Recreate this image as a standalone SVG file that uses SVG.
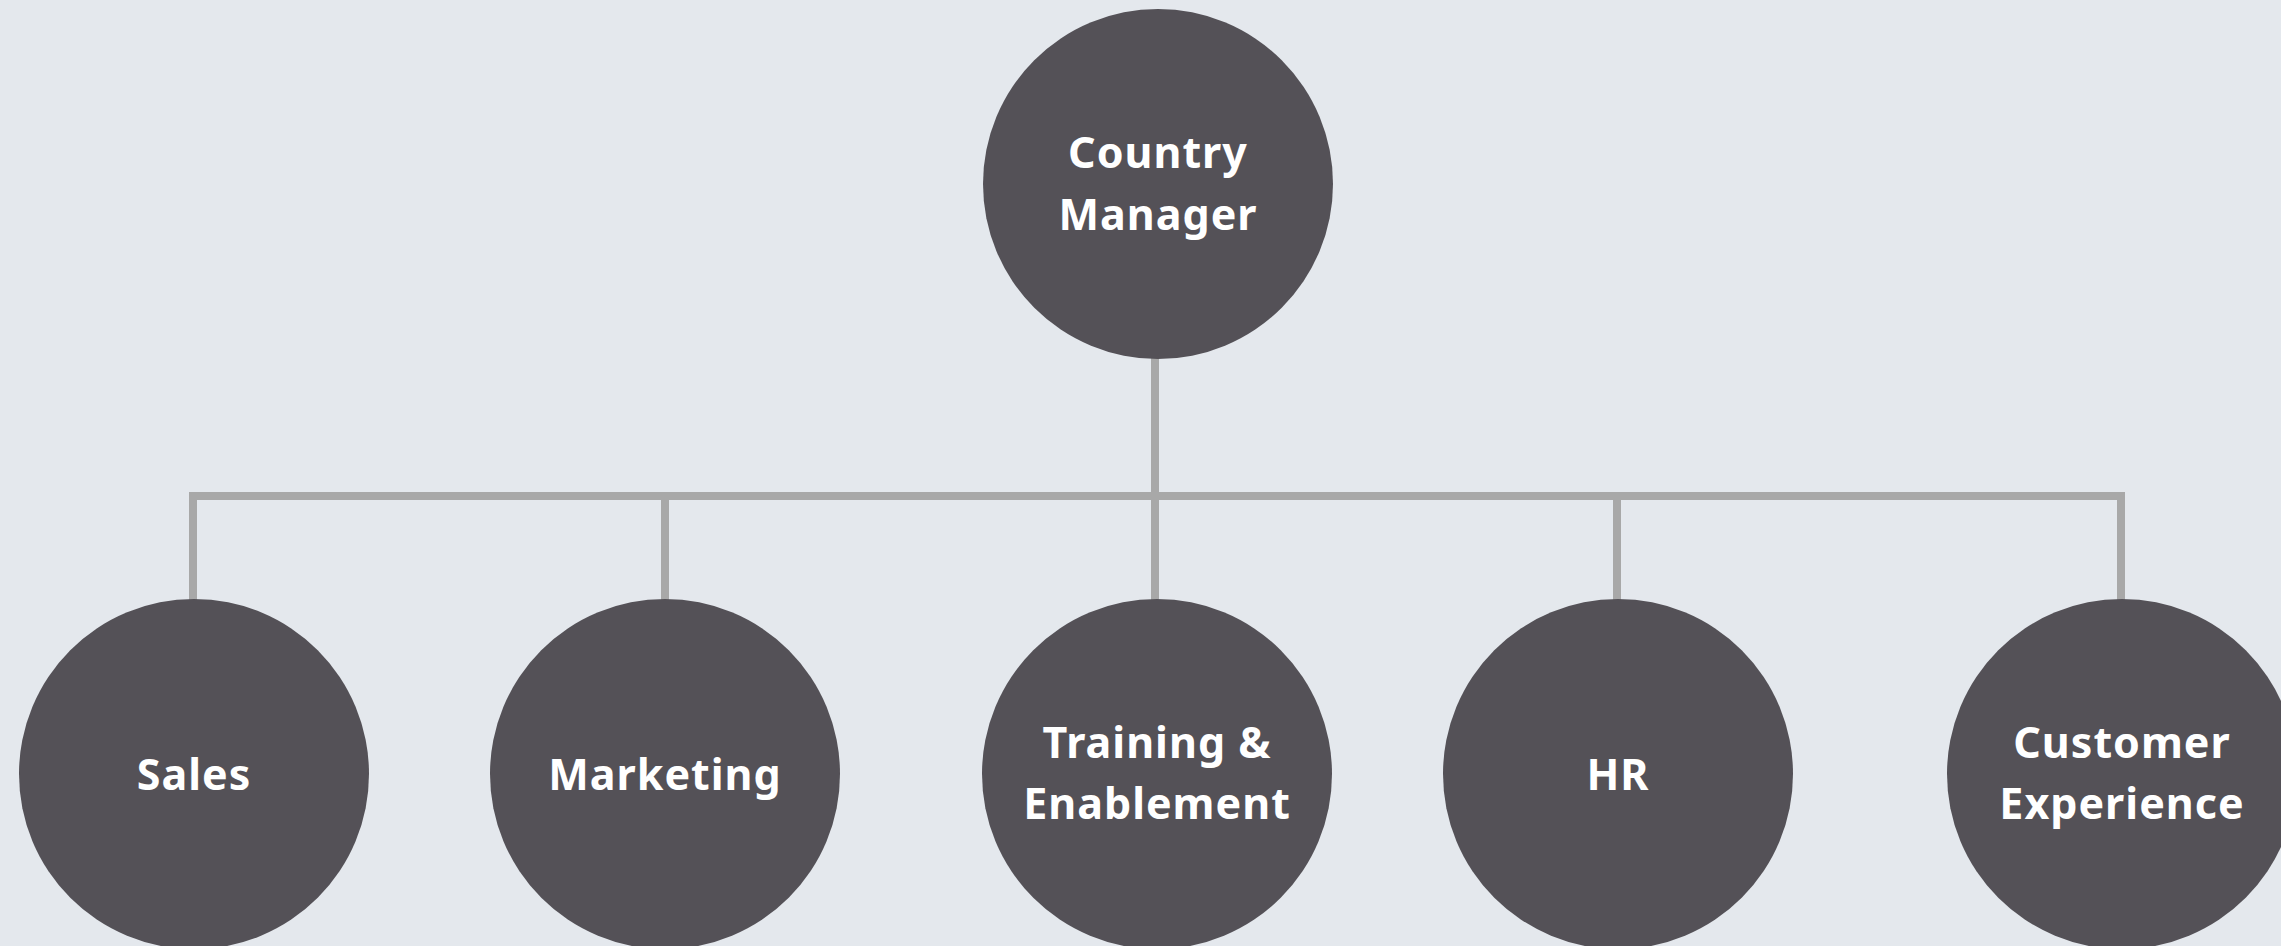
<svg xmlns="http://www.w3.org/2000/svg" width="2281" height="946" viewBox="0 0 2281 946">
<style>
.node{fill:#545157}
.lbl{fill:#ffffff;font-family:"Noto Sans","Open Sans",sans-serif;font-weight:700;font-size:43px;text-anchor:middle;letter-spacing:1px}
.conn{stroke:#A8A8A8;stroke-width:8;fill:none;stroke-linecap:butt}
</style>
<rect x="0" y="0" width="2281" height="946" fill="#E4E8ED"/>
<g id="connectors">
<line class="conn" x1="1155" y1="355" x2="1155" y2="602"/>
<polyline class="conn" points="193,602 193,496 2121,496 2121,602"/>
<line class="conn" x1="665" y1="496" x2="665" y2="602"/>
<line class="conn" x1="1617" y1="496" x2="1617" y2="602"/>
</g>
<g id="country-manager">
<circle class="node" cx="1158" cy="184" r="175"/>
<text class="lbl" x="1158" y="168">Country</text>
<text class="lbl" x="1158" y="230">Manager</text>
</g>
<g id="sales">
<circle class="node" cx="194" cy="774" r="175"/>
<text class="lbl" x="194" y="790">Sales</text>
</g>
<g id="marketing">
<circle class="node" cx="665" cy="774" r="175"/>
<text class="lbl" x="665" y="790">Marketing</text>
</g>
<g id="training">
<circle class="node" cx="1157" cy="774" r="175"/>
<text class="lbl" x="1157" y="758">Training &amp;</text>
<text class="lbl" x="1157" y="819">Enablement</text>
</g>
<g id="hr">
<circle class="node" cx="1618" cy="774" r="175"/>
<text class="lbl" x="1618" y="790">HR</text>
</g>
<g id="customer-experience">
<circle class="node" cx="2122" cy="774" r="175"/>
<text class="lbl" x="2122" y="758">Customer</text>
<text class="lbl" x="2122" y="819">Experience</text>
</g>
</svg>
